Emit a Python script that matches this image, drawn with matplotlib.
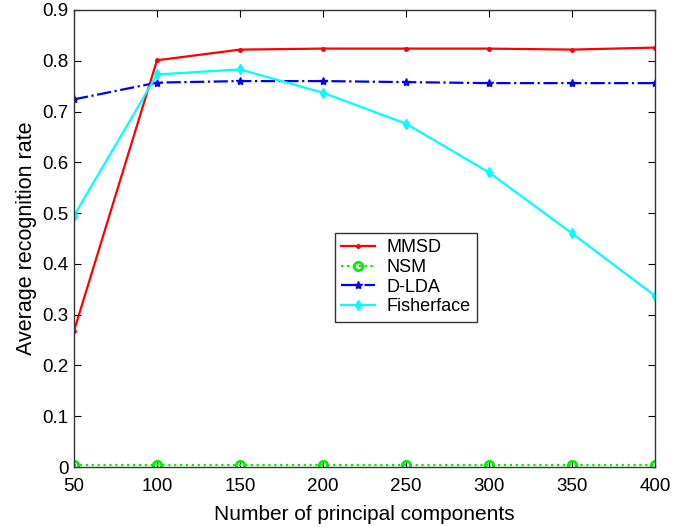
import matplotlib
matplotlib.use("Agg")
import matplotlib.pyplot as plt

plt.rcParams['font.family'] = ['Liberation Sans', 'DejaVu Sans']

components = [50, 100, 150, 200, 250, 300, 350, 400]
mmsd = [0.268, 0.801, 0.822, 0.824, 0.824, 0.824, 0.822, 0.826]
nsm = [0.003, 0.003, 0.003, 0.003, 0.003, 0.003, 0.003, 0.003]
dlda = [0.724, 0.757, 0.760, 0.760, 0.758, 0.756, 0.756, 0.756]
fisherface = [0.495, 0.773, 0.783, 0.737, 0.676, 0.580, 0.460, 0.337]
yticks = [0, 0.1, 0.2, 0.3, 0.4, 0.5, 0.6, 0.7, 0.8, 0.9]

fig = plt.figure(figsize=(6.86, 5.27), dpi=100)
ax = fig.add_axes([74/686, 1 - 467/527, 581/686, 457/527])

ax.plot(components, mmsd, color='#ff0000', marker='.', markersize=5, lw=1.6, label='MMSD')
ax.plot(components, nsm, color='#00ee00', marker='o', markersize=6, mfc='none', mew=2, ls=':', lw=1.6, label='NSM')
ax.plot(components, dlda, color='#0000ee', marker='*', markersize=6, ls='-.', lw=1.6, label='D-LDA')
ax.plot(components, fisherface, color='#00ffff', marker='d', markersize=5, lw=1.6, label='Fisherface')

ax.set_xlim(50, 400)
ax.set_ylim(0, 0.9)
ax.set_xticks(components)
ax.set_yticks(yticks)
ax.set_yticklabels(['0' if v == 0 else f'{v:.1f}' for v in yticks])
ax.tick_params(direction='in', labelsize=13.5, top=True, right=True, length=5)
ax.tick_params(axis='x', pad=8)
ax.tick_params(axis='y', pad=4)
for s in ax.spines.values():
    s.set_linewidth(1.0)
    s.set_color('#333333')
ax.set_xlabel('Number of principal components', fontsize=15, labelpad=7)
ax.set_ylabel('Average recognition rate', fontsize=15.5, labelpad=4)

ax.legend(loc='upper left', bbox_to_anchor=(0.449, 0.512), borderaxespad=0, fontsize=13, frameon=True,
          fancybox=False, edgecolor='#333333', framealpha=1, handlelength=1.9, borderpad=0.35,
          labelspacing=0.15, handletextpad=0.6)

fig.savefig('out.png', dpi=100)
